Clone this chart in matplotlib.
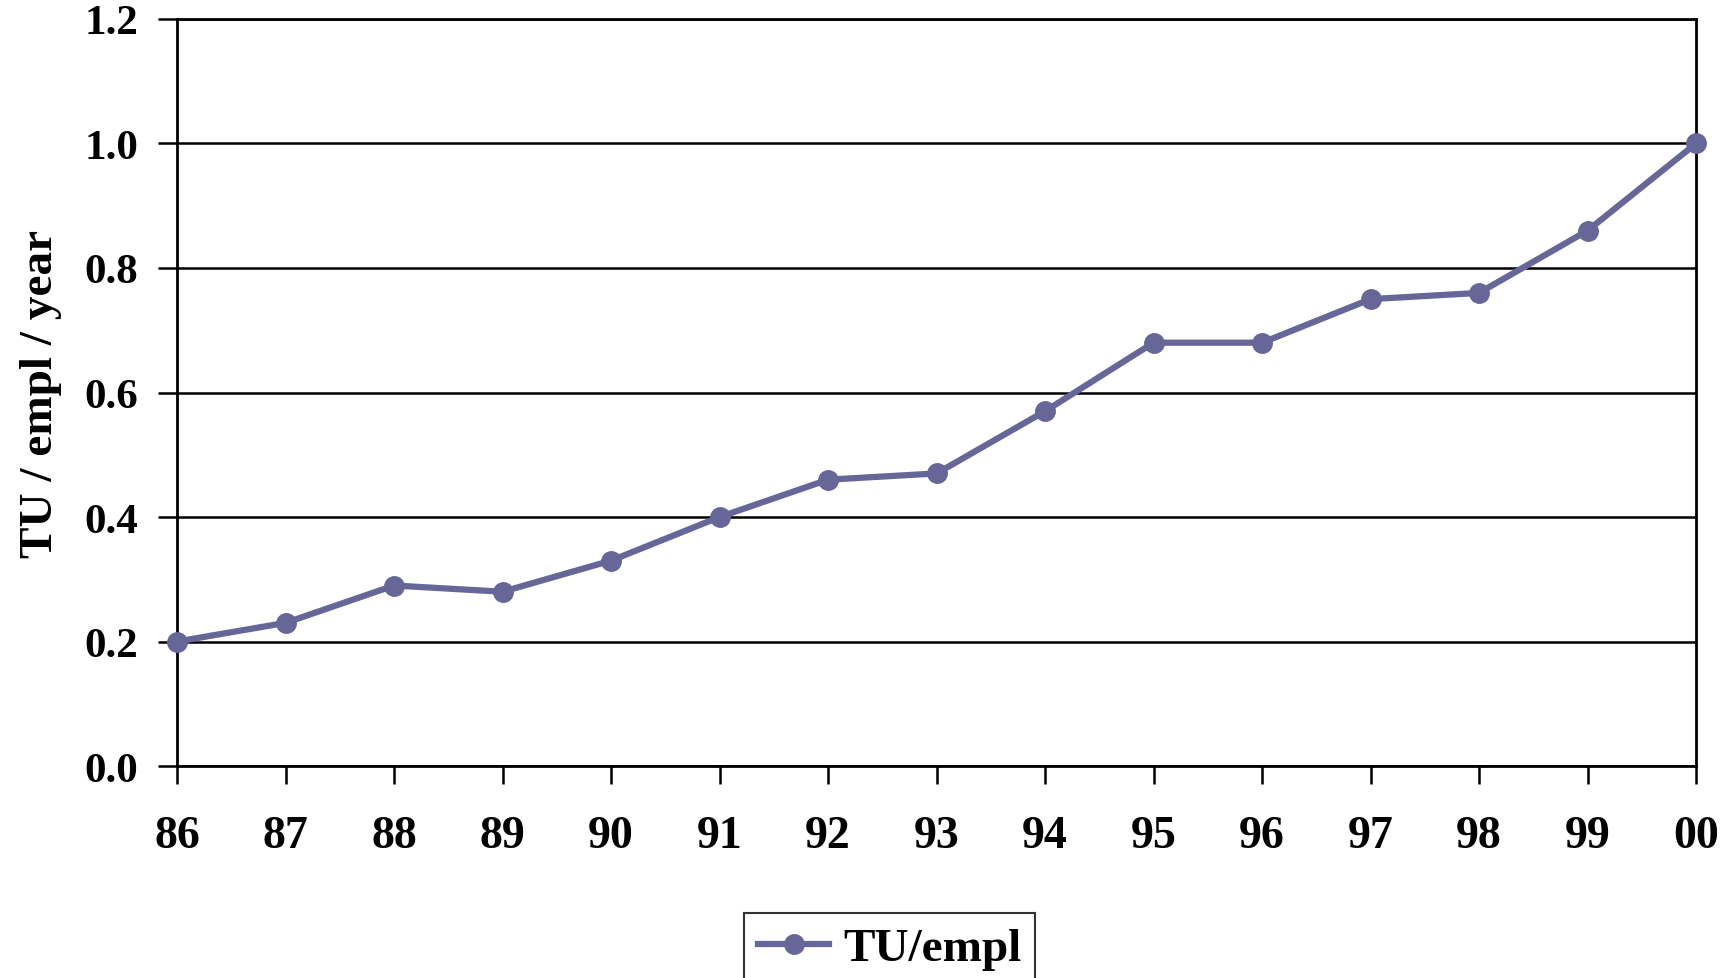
import matplotlib
matplotlib.use("Agg")
import matplotlib.pyplot as plt

years = ["86", "87", "88", "89", "90", "91", "92", "93", "94", "95", "96", "97", "98", "99", "00"]
tu_empl = [0.20, 0.23, 0.29, 0.28, 0.33, 0.40, 0.46, 0.47, 0.57, 0.68, 0.68, 0.75, 0.76, 0.86, 1.00]
y_ticks = [0.0, 0.2, 0.4, 0.6, 0.8, 1.0, 1.2]
y_ticklabels = ["0.0", "0.2", "0.4", "0.6", "0.8", "1.0", "1.2"]

plt.rcParams['font.family'] = ['Liberation Serif', 'DejaVu Serif']
plt.rcParams['font.weight'] = 'bold'

fig = plt.figure(figsize=(17.31, 9.79), dpi=100)
ax = fig.add_axes([0.1023, 0.2165, 0.9798 - 0.1023, 0.9796 - 0.2165])

x = list(range(len(years)))
line, = ax.plot(x, tu_empl, color='#666699', linewidth=4.5, marker='o',
                markersize=14, markerfacecolor='#666699', markeredgecolor='#666699',
                label='TU/empl', clip_on=False, zorder=3)

ax.set_xlim(0, len(years) - 1)
ax.set_ylim(0, 1.2)
ax.set_xticks(x)
ax.set_xticklabels(years, fontsize=33, fontweight='bold')
ax.set_yticks(y_ticks)
ax.set_yticklabels(y_ticklabels, fontsize=31, fontweight='bold')
ax.tick_params(axis='x', direction='out', length=13, width=1.8, pad=22)
ax.tick_params(axis='y', direction='out', length=14, width=1.8, pad=14)

ax.yaxis.grid(True, color='black', linewidth=1.8)
ax.set_axisbelow(True)
for s in ax.spines.values():
    s.set_linewidth(2)
    s.set_color('black')

ax.set_ylabel('TU / empl / year', fontsize=34, fontweight='bold', labelpad=16)

leg = fig.legend(handles=[line], loc='upper center', bbox_to_anchor=(0.514, 0.0664),
                 borderaxespad=0, fontsize=34, frameon=True, fancybox=False,
                 edgecolor='black', handlelength=1.5, handletextpad=0.3, borderpad=0.3)
leg.get_frame().set_linewidth(1.5)
for t in leg.get_texts():
    t.set_fontweight('bold')

fig.savefig('out.png', dpi=100)
